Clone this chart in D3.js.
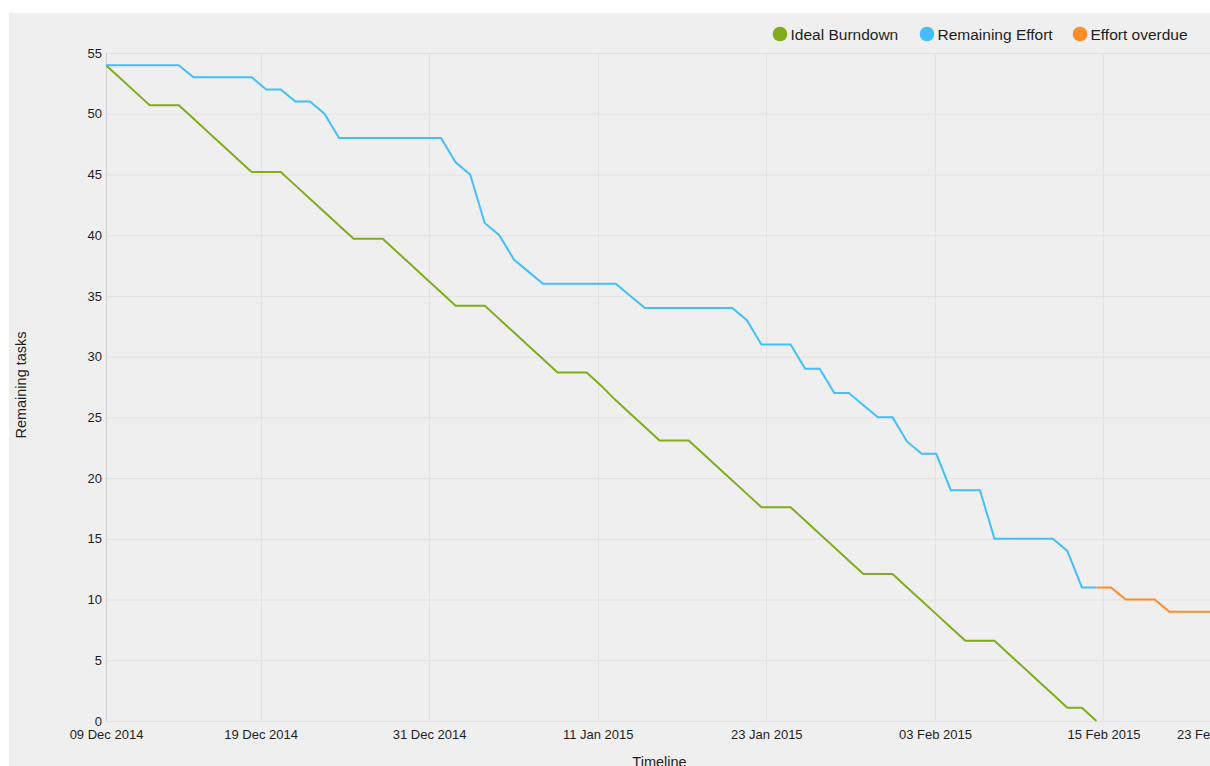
<!DOCTYPE html>
<html>

<head>
    <title>burndown</title>
    <script src="https://d3js.org/d3.v7.min.js"></script>
    <style>
        body {
            margin: 0;
            background: #fff;
            font-family: "Liberation Sans", Arial, sans-serif;
        }

        .tick text {
            fill: #1e1e1e;
        }
    </style>
</head>

<body>
    <div id="chart"></div>
    <script>
        // one value per day
        const idealStart = "2014-12-09";
        const idealValues = [54, 52.9, 51.8, 50.7, 50.7, 50.7, 49.6, 48.5, 47.4, 46.3,
            45.2, 45.2, 45.2, 44.1, 43.0, 41.9, 40.8, 39.7, 39.7, 39.7,
            38.6, 37.5, 36.4, 35.3, 34.2, 34.2, 34.2, 33.1, 32.0, 30.9,
            29.8, 28.7, 28.7, 28.7, 27.6, 26.4, 25.3, 24.2, 23.1, 23.1,
            23.1, 22.0, 20.9, 19.8, 18.7, 17.6, 17.6, 17.6, 16.5, 15.4,
            14.3, 13.2, 12.1, 12.1, 12.1, 11.0, 9.9, 8.8, 7.7, 6.6,
            6.6, 6.6, 5.5, 4.4, 3.3, 2.2, 1.1, 1.1, 0];

        const effortStart = "2014-12-09";
        const effortValues = [54, 54, 54, 54, 54, 54, 53, 53, 53, 53,
            53, 52, 52, 51, 51, 50, 48, 48, 48, 48,
            48, 48, 48, 48, 46, 45, 41, 40, 38, 37,
            36, 36, 36, 36, 36, 36, 35, 34, 34, 34,
            34, 34, 34, 34, 33, 31, 31, 31, 29, 29,
            27, 27, 26, 25, 25, 23, 22, 22, 19, 19,
            19, 15, 15, 15, 15, 15, 14, 11, 11];

        const overdueStart = "2015-02-15";
        const overdueValues = [11, 11, 10, 10, 10, 9, 9, 9, 9];

        const seriesNames = ["Ideal Burndown", "Remaining Effort", "Effort overdue"];
        const seriesColors = ["#7fad1c", "#43bffc", "#ff8c28"];

        // x domain and tick values (ms)
        const xMin = "2014-12-09";
        const xMax = "2015-02-23";
        const xTickValues = [1419e9, 1420e9, 1421e9, 1422e9, 1423e9, 1424e9];
        const yTickValues = [0, 5, 10, 15, 20, 25, 30, 35, 40, 45, 50, 55];

        const width = 1210, height = 766;
        const margin = { top: 53, right: -3, bottom: 45, left: 106 };

        const parse = d3.utcParse("%Y-%m-%d");
        const fmt = d3.utcFormat("%d %b %Y");

        function toPoints(start, values) {
            const s = parse(start);
            return values.map((v, i) => ({ x: d3.utcDay.offset(s, i), y: v }));
        }

        const series = [
            toPoints(idealStart, idealValues),
            toPoints(effortStart, effortValues),
            toPoints(overdueStart, overdueValues)
        ];

        const svg = d3.select("#chart")
            .append("svg")
            .attr("width", width)
            .attr("height", height);

        // grey panel
        svg.append("rect")
            .attr("x", 9)
            .attr("y", 13)
            .attr("width", width - 9)
            .attr("height", height - 13)
            .attr("fill", "#efefef");

        const x = d3.scaleUtc()
            .domain([parse(xMin), parse(xMax)])
            .range([margin.left, width - margin.right]);

        const y = d3.scaleLinear()
            .domain([0, 55])
            .range([height - margin.bottom, margin.top]);

        // grid
        svg.append("g")
            .selectAll("line")
            .data(yTickValues)
            .join("line")
            .attr("x1", margin.left)
            .attr("x2", width - margin.right)
            .attr("y1", d => y(d) + 0.5)
            .attr("y2", d => y(d) + 0.5)
            .attr("stroke", "#e3e3e3");

        svg.append("g")
            .selectAll("line")
            .data(xTickValues)
            .join("line")
            .attr("x1", d => Math.round(x(new Date(d))) + 0.5)
            .attr("x2", d => Math.round(x(new Date(d))) + 0.5)
            .attr("y1", margin.top)
            .attr("y2", height - margin.bottom)
            .attr("stroke", "#e3e3e3");

        // left axis line
        svg.append("line")
            .attr("x1", margin.left + 0.5)
            .attr("x2", margin.left + 0.5)
            .attr("y1", margin.top)
            .attr("y2", height - margin.bottom)
            .attr("stroke", "#cfcfcf");

        // y axis
        const yAxis = svg.append("g")
            .attr("transform", `translate(${margin.left - 4},0)`)
            .call(d3.axisLeft(y).tickValues(yTickValues).tickSize(0).tickPadding(0));
        yAxis.select(".domain").remove();
        yAxis.selectAll("text")
            .attr("font-size", 13)
            .attr("font-family", "Liberation Sans, Arial, sans-serif");

        // x axis: min, round ticks, max
        const allXTicks = [parse(xMin)].concat(xTickValues.map(d => new Date(d)), [parse(xMax)]);
        const xAxis = svg.append("g")
            .attr("transform", `translate(0,${height - margin.bottom})`)
            .call(d3.axisBottom(x).tickValues(allXTicks).tickFormat(fmt).tickSize(0).tickPadding(9));
        xAxis.select(".domain").remove();
        xAxis.selectAll("text")
            .attr("font-size", 13)
            .attr("font-family", "Liberation Sans, Arial, sans-serif");

        // lines
        const line = d3.line()
            .x(d => x(d.x))
            .y(d => y(d.y));

        svg.append("g")
            .selectAll("path")
            .data(series)
            .join("path")
            .attr("fill", "none")
            .attr("stroke", (d, i) => seriesColors[i])
            .attr("stroke-width", 2)
            .attr("d", line);

        // axis titles
        svg.append("text")
            .attr("transform", "translate(26,385) rotate(-90)")
            .attr("text-anchor", "middle")
            .attr("font-size", 14.5)
            .attr("fill", "#1e1e1e")
            .text("Remaining tasks");

        svg.append("text")
            .attr("x", (margin.left + width - margin.right) / 2)
            .attr("y", 767)
            .attr("text-anchor", "middle")
            .attr("font-size", 14.5)
            .attr("fill", "#1e1e1e")
            .text("Timeline");

        // legend
        const legendX = [780, 927, 1080];
        const legend = svg.append("g")
            .selectAll("g")
            .data(seriesNames)
            .join("g")
            .attr("transform", (d, i) => `translate(${legendX[i]},34)`);
        legend.append("circle")
            .attr("r", 7.3)
            .attr("fill", (d, i) => seriesColors[i]);
        legend.append("text")
            .attr("x", 10.5)
            .attr("y", 5.5)
            .attr("font-size", 15.5)
            .attr("fill", "#1e1e1e")
            .text(d => d);
    </script>
</body>

</html>
